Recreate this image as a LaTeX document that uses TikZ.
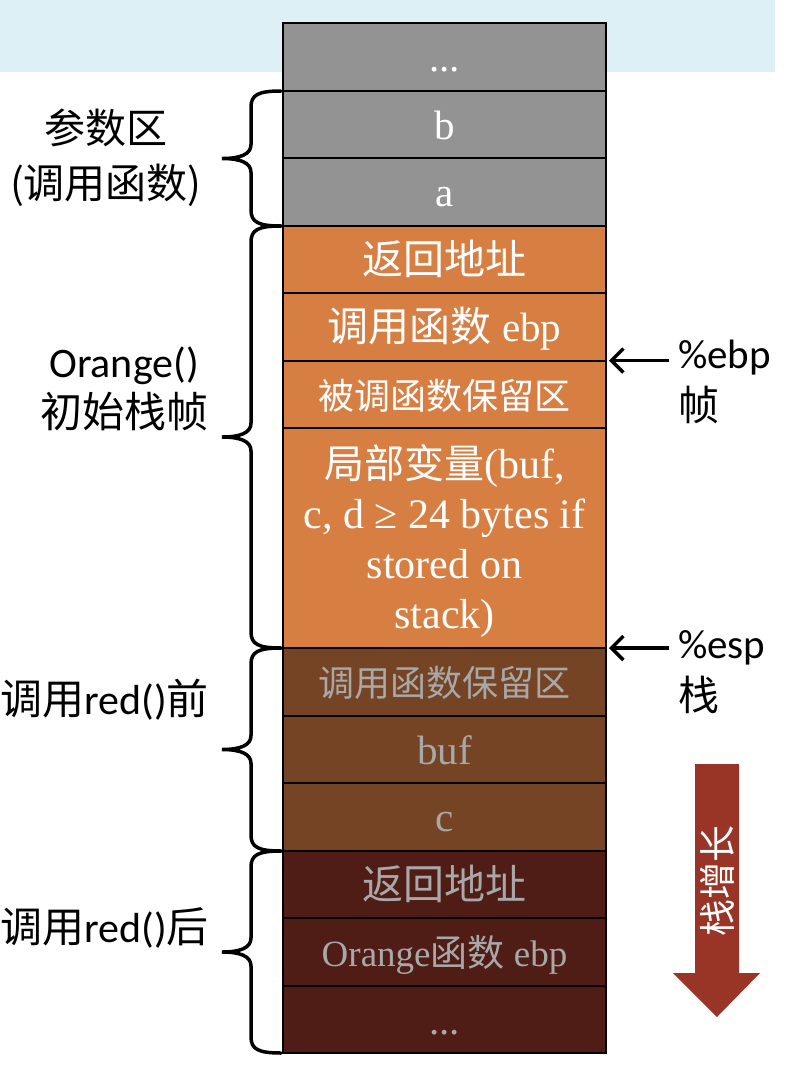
\documentclass[tikz,border=0pt]{standalone}
\usepackage{fontspec}
\setmainfont{Carlito}
\newfontfamily\cjk{Noto Sans CJK SC}
\newfontfamily\cellfont{Liberation Serif}
\usetikzlibrary{positioning,%
                arrows.meta}

\definecolor{bandblue}{HTML}{DDF0F6}
\definecolor{cellgray}{HTML}{939393}
\definecolor{cellorange}{HTML}{D77F43}
\definecolor{cellbrown}{HTML}{754424}
\definecolor{celldark}{HTML}{4F1D16}
\definecolor{fadedtext}{HTML}{A8A8A8}
\definecolor{growred}{HTML}{983527}

\tikzset{
	Cell/.style={draw=black,line width=2pt,minimum width=323pt,minimum height=67.5pt,
		inner sep=0pt,outer sep=0pt,text height=30pt,text depth=0pt,
		align=center,font=\cellfont\fontsize{41}{50}\selectfont},
	OldCell/.style={Cell,fill=cellgray,text=white},
	FrameCell/.style={Cell,fill=cellorange,text=white},
	PreCell/.style={Cell,fill=cellbrown,text=fadedtext},
	PostCell/.style={Cell,fill=celldark,text=fadedtext},
	BraceLine/.style={line width=3.5pt,line cap=round},
	SideLabel/.style={align=center,inner sep=0pt,font=\fontsize{42}{50}\selectfont},
	RegLabel/.style={anchor=west,inner sep=0pt,font=\fontsize{41}{50}\selectfont},
	Ptr/.style={-{Straight Barb[length=12pt,width=24pt,line width=3.5pt]},line width=3.5pt}
}

% left brace from #1 (top) to #2 (bottom)
\newcommand\stackbrace[2]{%
	\pgfmathsetmacro\bmid{(#1+#2)/2}
	\draw[BraceLine] (281,#1) .. controls (258,#1) and (251,#1+4) .. (251,#1+16)
		-- (251,\bmid-14) .. controls (251,\bmid-4) and (240,\bmid) .. (222,\bmid)
		.. controls (240,\bmid) and (251,\bmid+4) .. (251,\bmid+14)
		-- (251,#2-16) .. controls (251,#2-4) and (258,#2) .. (281,#2);}

\begin{document}
\begin{tikzpicture}[x=1pt,y=-1pt]
		\useasboundingbox (0,0) rectangle (808,1066);
		\fill[bandblue] (0,0) rectangle (775,72);
		% caller part
		\node[OldCell,anchor=north west] (dots1) at (283,23) {...};
		\node[OldCell,below=0pt of dots1] (argb) {b};
		\node[OldCell,below=0pt of argb] (arga) {a};
		% Orange() frame
		\node[FrameCell,below=0pt of arga] (ret1) {{\cjk 返回地址}};
		\node[FrameCell,below=0pt of ret1] (callerebp) {{\cjk 调用函数} ebp};
		\node[FrameCell,below=0pt of callerebp,font=\cjk\fontsize{36}{50}\selectfont] (calleesave) {被调函数保留区};
		\node[FrameCell,below=0pt of calleesave,minimum height=220pt,text height=180pt,
			font=\cellfont\fontsize{42}{50}\selectfont] (locals)
			{{\cjk\fontsize{40}{50}\selectfont 局部变量}(buf,\\c, d ≥ 24 bytes if\\stored on\\stack)};
		% before red()
		\node[PreCell,below=0pt of locals,font=\cjk\fontsize{36}{50}\selectfont] (callersave) {调用函数保留区};
		\node[PreCell,below=0pt of callersave] (buf) {buf};
		\node[PreCell,below=0pt of buf] (varc) {c};
		% after red()
		\node[PostCell,below=0pt of varc] (ret2) {{\cjk 返回地址}};
		\node[PostCell,below=0pt of ret2,font=\cellfont\fontsize{37}{50}\selectfont] (orangeebp) {Orange{\cjk 函数} ebp};
		\node[PostCell,below=0pt of orangeebp] (dots2) {...};
		%\draw[line width=2pt] (dots1.north west) rectangle (dots2.south east);
		\stackbrace{91}{226}
		\stackbrace{226}{648}
		\stackbrace{648}{851}
		\stackbrace{851}{1053}
		\node[SideLabel,font=\cjk\fontsize{41}{55}\selectfont] (argslbl) at (106,158) {参数区\\(调用函数)};
		\node[SideLabel] (framelbl) at (124,389) {Orange()\\{\cjk 初始栈帧}};
		\node[SideLabel,anchor=west] (prelbl) at (0,700) {{\cjk 调用}red(){\cjk 前}};
		\node[SideLabel,anchor=west] (postlbl) at (0,928) {{\cjk 调用}red(){\cjk 后}};
		% registers
		\node[RegLabel] (ebplbl) at (678,358) {\%ebp};
		\node[RegLabel,below=10pt of ebplbl.south west,anchor=north west] (ebpzh) {\cjk 帧};
		\node[RegLabel] (esplbl) at (678,648) {\%esp};
		\node[RegLabel,below=10pt of esplbl.south west,anchor=north west] (espzh) {\cjk 栈};
		\draw[Ptr] (ebplbl.west |- callerebp.south east) ++(-9,0) coordinate (ebptail) -- ([xshift=3pt]callerebp.south east);
		\draw[Ptr] (esplbl.west |- locals.south east) ++(-9,0) coordinate (esptail) -- ([xshift=3pt]locals.south east);
		% growth direction
		\fill[growred] (695,764) -- (739,764) -- (739,973) -- (760,973) -- (717,1017)
			-- (673,973) -- (695,973) -- cycle;
		\node[rotate=90,text=white,inner sep=0pt,font=\cjk\fontsize{37}{40}\selectfont] (growlbl) at (717,881) {栈增长};
	\end{tikzpicture}
\end{document}
